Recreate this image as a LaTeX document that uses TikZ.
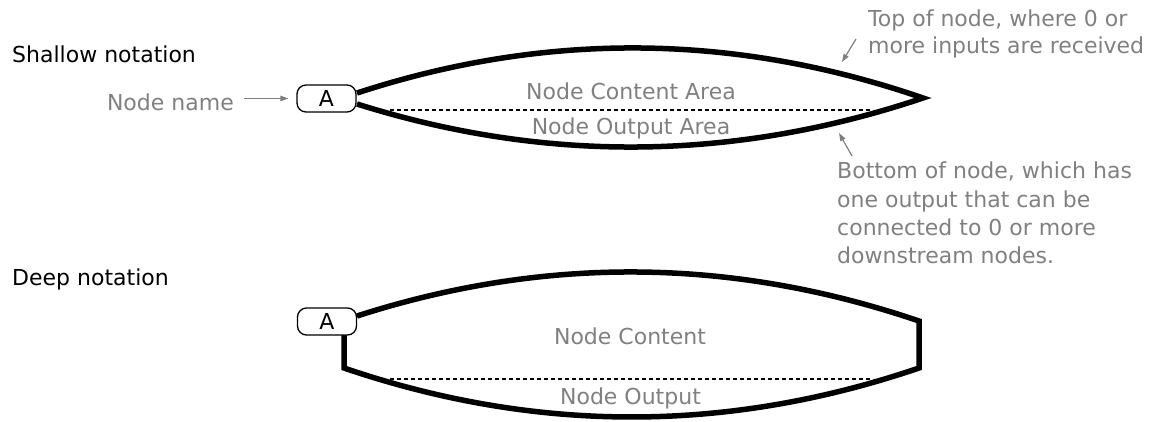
\documentclass[tikz,border=0pt]{standalone}
\usepackage{fontspec}
\setmainfont{DejaVu Sans}
\usetikzlibrary{arrows.meta}
\definecolor{notegray}{HTML}{808080}
\tikzset{
  outline/.style={line width=5.5pt, line join=miter, miter limit=10},
  split/.style={line width=1.2pt, dash pattern=on 4pt off 3pt},
  namebox/.style={draw, line width=1.3pt, rounded corners=9pt,
    minimum width=59pt, minimum height=27pt, inner sep=0pt,
    font=\fontsize{22}{26}\selectfont},
  heading/.style={inner sep=0pt, font=\fontsize{22}{26}\selectfont},
  note/.style={inner sep=0pt, text=notegray, font=\fontsize{22}{26}\selectfont},
  annot/.style={draw=notegray, line width=1.2pt,
    -{Triangle[length=8pt,width=5.5pt]}, fill=notegray},
}
\begin{document}
\begin{tikzpicture}[x=1pt, y=-1pt]
\useasboundingbox (0,0) rectangle (1154,421);

% ---------------- shallow notation ----------------
\node[heading, anchor=base west] (shallowlbl) at (12,62) {Shallow notation};

\draw[outline] (357,93) .. controls (545.7,31.3) and (734.3,33) .. (923,98)
                        .. controls (734.3,161.3) and (545.7,163.3) .. (357,104);
\draw[split] (390,110) -- (873,110);

\node[namebox, fill=white] (A1) at (326.5,98.5) {A};

\node[note, anchor=base] (sca) at (631,99) {Node Content Area};
\node[note, anchor=base] (soa) at (631,134) {Node Output Area};

\node[note, anchor=base east] (namelbl) at (234,110) {Node name};
\draw[annot, shorten <=10pt, shorten >=8pt] (namelbl.east |- A1.west) -- (A1.west);

\node[note, anchor=north west, align=left,
      font=\fontsize{22}{26.5}\selectfont] (topnote) at (868,10)
  {Top of node, where 0 or\\more inputs are received};
\coordinate (toptail) at (856,39);
\coordinate (toptip) at (842,62);
\draw[annot] (toptail) -- (toptip);

\node[note, anchor=north west, align=left,
      font=\fontsize{22}{28.3}\selectfont] (botnote) at (837,162)
  {Bottom of node, which has\\one output that can be\\connected to 0 or more\\downstream nodes.};
\coordinate (bottail) at (852,156);
\coordinate (bottip) at (839,133);
\draw[annot] (bottail) -- (bottip);

% ---------------- deep notation ----------------
\node[heading, anchor=base west] (deeplbl) at (12,285) {Deep notation};

\draw[outline] (357,316) .. controls (544.3,255.7) and (731.7,257.3) .. (919,321)
   -- (919,368) .. controls (727.3,433.3) and (535.7,433.3) .. (344,368) -- (344,334);
\draw[split] (390,379) -- (873,379);

\node[namebox, fill=white] (A2) at (327,321.5) {A};

\node[note, anchor=base] (dca) at (630,344) {Node Content};
\node[note, anchor=base] (doa) at (630.5,404) {Node Output};
\end{tikzpicture}
\end{document}
